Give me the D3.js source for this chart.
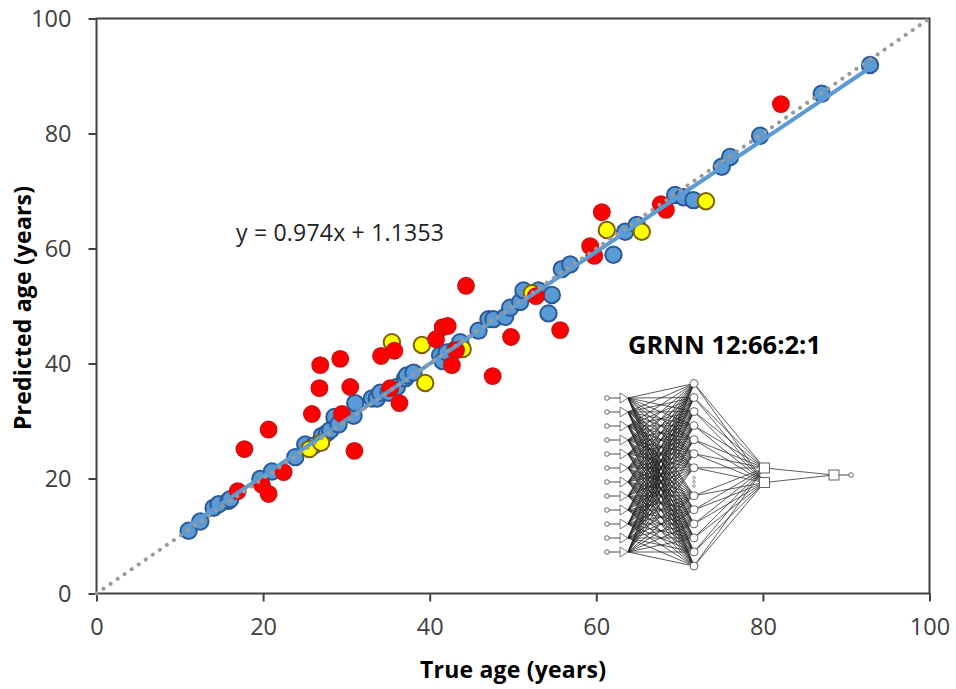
<!DOCTYPE html>
<html><head><meta charset="utf-8">
<script src="https://cdn.jsdelivr.net/npm/d3@7"></script>
<style>html,body{margin:0;background:#fff}svg{display:block}text{font-family:"Open Sans",sans-serif}</style>
</head><body><svg id="c" width="956" height="689"></svg>
<script>
const blueX=[11,12.4,14,14.6,15.8,16,19.6,21,23.8,25,26,27,27.6,28,28.5,29,30.8,31,33,33.6,34,35,36,37,37.2,38,41.2,41.5,42,43,43.6,45.8,47,47.6,49,49.6,50.8,51.2,53,54.2,54.6,55.8,56.8,62,63.4,64.8,68,69.4,70.4,71.6,75,76,79.6,87,92.8];
const blueY=[11,12.6,15,15.6,16.2,16.5,20,21.3,23.8,26,25.8,27.5,28,28.5,30.8,29.5,31,33.2,34,34,35,35,36,37.5,38,38.5,41.5,40.5,42,42.5,43.8,45.8,47.8,47.8,48.2,49.8,50.8,52.8,52.8,48.8,52,56.5,57.3,59,63,64.2,67.5,69.4,69,68.5,74.3,76,79.7,87,92];
const yellowX=[25.5,26.9,35.4,39,39.4,43.9,52.2,61.2,65.4,73.1];
const yellowY=[25.2,26.3,43.8,43.3,36.7,42.6,52.3,63.3,63,68.3];
const redX=[16.9,17.7,19.8,20.6,20.6,22.4,25.8,26.7,26.8,29.2,29.4,30.4,30.9,34.1,35.7,35.2,36.3,40.7,41.5,42.1,42.6,43.1,44.3,47.5,49.7,52.7,55.6,59.2,59.7,60.6,67.7,68.3,82.1];
const redY=[17.9,25.2,19,28.6,17.4,21.2,31.3,35.8,39.8,40.9,31.3,36,24.9,41.4,42.3,35.8,33.2,44.3,46.4,46.6,39.8,42.4,53.6,37.9,44.7,51.8,45.9,60.5,58.8,66.4,67.8,66.8,85.2];
const tickValues=[0,20,40,60,80,100];
const trendSlope=0.974, trendIntercept=1.1353;
const identityEnds=[0,100];
const xTitle="True age (years)", yTitle="Predicted age (years)";
const equationText="y = 0.974x + 1.1353", networkTitle="GRNN 12:66:2:1";
const inputRows=d3.range(12);
const hiddenRows=[0,1,2,3,4,5,6,8,9,10,11,12,13];
const hiddenDots=[6.7,7,7.3];
const patternRows=[0,1];

const svg=d3.select("#c");
const m={l:96.5,r:929.5,t:18.5,b:593.5};
const x=d3.scaleLinear().domain([0,100]).range([m.l,m.r]);
const y=d3.scaleLinear().domain([0,100]).range([m.b,m.t]);
const xm=d3.scaleLinear().domain([0,100]).range([m.l+.5,m.r+.5]);
const ym=d3.scaleLinear().domain([0,100]).range([m.b+.5,m.t+.5]);
const axisColor="#404040", textColor="#404040";

svg.append("rect").attr("x",m.l).attr("y",m.t).attr("width",m.r-m.l).attr("height",m.b-m.t)
  .attr("fill","none").attr("stroke",axisColor).attr("stroke-width",2);
const ax=svg.append("g").attr("transform",`translate(0,${m.b})`).call(d3.axisBottom(x).tickValues(tickValues).tickSize(8).tickPadding(17));
const ay=svg.append("g").attr("transform",`translate(${m.l},0)`).call(d3.axisLeft(y).tickValues(tickValues).tickSize(8).tickPadding(17));
[ax,ay].forEach(g=>{g.select(".domain").remove();
  g.selectAll("line").attr("stroke",axisColor).attr("stroke-width",2);
  g.selectAll("text").attr("fill",textColor).style("font-size","23.5px").style("font-family",'"Open Sans"');});

function dots(xs,ys,fill,stroke,w){
  svg.append("g").selectAll("circle").data(xs).join("circle")
   .attr("cx",d=>xm(d)).attr("cy",(d,i)=>ym(ys[i])).attr("r",8.2)
   .attr("fill",fill).attr("stroke",stroke).attr("stroke-width",w);
}
dots(blueX,blueY,"#5b9bd5","#2a5a9a",2);
dots(yellowX,yellowY,"#ffff00","#7f6000",2);
dots(redX,redY,"#ff0000","#d01010",1.5);

const tx=d3.extent(blueX);
svg.append("line").attr("x1",xm(tx[0])).attr("y1",ym(trendSlope*tx[0]+trendIntercept))
  .attr("x2",xm(tx[1])).attr("y2",ym(trendSlope*tx[1]+trendIntercept))
  .attr("stroke","#5b9bd5").attr("stroke-width",4);
svg.append("line").attr("x1",x(identityEnds[0])).attr("y1",y(identityEnds[0]))
  .attr("x2",x(identityEnds[1])).attr("y2",y(identityEnds[1]))
  .attr("stroke","#9a9a9a").attr("stroke-width",4).attr("stroke-linecap","round").attr("stroke-dasharray","0.1 8.45").attr("stroke-dashoffset",-8.5);

svg.append("text").attr("x",236).attr("y",241).attr("fill","#222").style("font-size","23px").attr("textLength",208).text(equationText);
svg.append("text").attr("x",628).attr("y",354).attr("fill","#000").style("font-size","25.5px").style("font-weight",700).attr("textLength",193).text(networkTitle);
svg.append("text").attr("x",513).attr("y",678).attr("text-anchor","middle").attr("fill","#000").style("font-size","23px").style("font-weight",700).attr("textLength",186).text(xTitle);
svg.append("text").attr("transform","translate(31,308) rotate(-90)").attr("text-anchor","middle").attr("fill","#000").style("font-size","23px").style("font-weight",700).attr("textLength",244).text(yTitle);

// network inset
const inY=d3.scaleLinear().domain([0,11]).range([398,552]);
const hidY=d3.scaleLinear().domain([0,13]).range([383.5,566]);
const patY=d3.scaleLinear().domain([0,1]).range([468,482.5]);
const colX={input:607,triL:620,triR:628,hid:694,pat:764.5,out:834,outDot:851};
const outY=475;
const net=svg.append("g");
const wire=(x1,y1,x2,y2,c="#222",w=0.75)=>net.append("line").attr("x1",x1).attr("y1",y1).attr("x2",x2).attr("y2",y2).attr("stroke",c).attr("stroke-width",w);
inputRows.forEach(i=>{wire(colX.input,inY(i),colX.triL,inY(i),"#333",0.9);
  hiddenRows.forEach(h=>wire(colX.triR,inY(i),colX.hid,hidY(h)));});
hiddenRows.forEach(h=>patternRows.forEach(p=>wire(colX.hid,hidY(h),colX.pat,patY(p),"#333",0.8)));
patternRows.forEach(p=>wire(colX.pat,patY(p),colX.out,outY,"#333",0.8));
wire(colX.out,outY,colX.outDot,outY,"#333",0.9);
net.selectAll(".i").data(inputRows).join("circle").attr("cx",colX.input).attr("cy",d=>inY(d)).attr("r",2.3).attr("fill","#fff").attr("stroke","#444").attr("stroke-width",.8);
net.selectAll(".t").data(inputRows).join("path").attr("d",d=>d3.line()([[colX.triL,inY(d)-5],[colX.triR,inY(d)],[colX.triL,inY(d)+5]])+"Z").attr("fill","#fff").attr("stroke","#555").attr("stroke-width",.8);
net.selectAll(".h").data(hiddenRows).join("circle").attr("cx",colX.hid).attr("cy",d=>hidY(d)).attr("r",4).attr("fill","#fff").attr("stroke","#444").attr("stroke-width",.8);
net.selectAll(".d").data(hiddenDots).join("circle").attr("cx",colX.hid).attr("cy",d=>hidY(d)).attr("r",1.3).attr("fill","#fff").attr("stroke","#666").attr("stroke-width",.7);
net.selectAll(".p").data(patternRows).join("rect").attr("x",colX.pat-5).attr("y",d=>patY(d)-5).attr("width",10).attr("height",10).attr("fill","#fff").attr("stroke","#555").attr("stroke-width",.9);
net.append("rect").attr("x",colX.out-5).attr("y",outY-5).attr("width",10).attr("height",10).attr("fill","#fff").attr("stroke","#555").attr("stroke-width",.9);
net.append("circle").attr("cx",colX.outDot).attr("cy",outY).attr("r",2.3).attr("fill","#fff").attr("stroke","#444").attr("stroke-width",.8);
</script></body></html>
